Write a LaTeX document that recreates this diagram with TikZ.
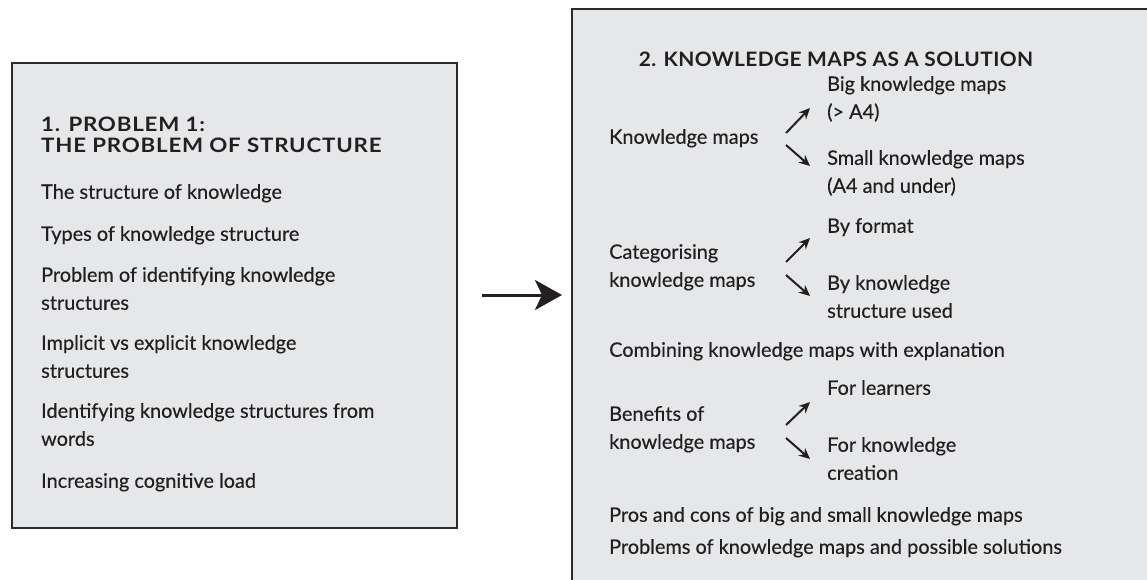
\documentclass[tikz,border=0pt]{standalone}
\usepackage{fontspec}
\setmainfont{Lato}[FakeBold=0.35]
\newfontfamily\headfont{Lato}[FakeStretch=1.12,LetterSpace=4]
\newfontfamily\headfontb{Lato}[FakeStretch=1.05,LetterSpace=2]
\usetikzlibrary{arrows.meta}
\definecolor{boxfill}{HTML}{E6E7E9}
\definecolor{ink}{HTML}{231F20}
\definecolor{edge}{HTML}{2B2B2B}
\tikzset{
  panel/.style={draw=edge, fill=boxfill, line width=2.4pt},
  txt/.style={anchor=west, inner sep=0pt, text=ink, font=\fontsize{19.9}{24}\selectfont, text height=9.5pt, text depth=0pt},
  head/.style={txt, font=\headfont\fontsize{19.9}{24}\selectfont\bfseries, text height=14pt},
  headb/.style={txt, font=\headfontb\fontsize{19.9}{24}\selectfont\bfseries, text height=14pt},
  small/.style={draw=ink, line width=2pt, -{Stealth[length=11pt,width=10pt]}},
  big/.style={draw=ink, line width=3pt, -{Stealth[length=27pt,width=30pt,inset=7pt]}}
}
\begin{document}
\begin{tikzpicture}[x=1pt,y=-1pt]
\useasboundingbox (0,0) rectangle (1147,579);
\fill[white] (0,0) rectangle (1147,579);
\begin{scope}
\clip (0,0) rectangle (1147,579);
\draw[panel] (572,9) rectangle (1165,600);
\end{scope}
\draw[panel] (12,63) rectangle (457,528);

% left box
\node[head] (h1a) at (41,124) {1. PROBLEM 1:};
\node[head] (h1b) at (41,145) {THE PROBLEM OF STRUCTURE};
\node[txt] (l1) at (41,194) {The structure of knowledge};
\node[txt] (l2) at (41,236) {Types of knowledge structure};
\node[txt] (l3a) at (41,277) {Problem of identifying knowledge};
\node[txt] (l3b) at (41,305) {structures};
\node[txt] (l4a) at (41,345) {Implicit vs explicit knowledge};
\node[txt] (l4b) at (41,373) {structures};
\node[txt] (l5a) at (41,413) {Identifying knowledge structures from};
\node[txt] (l5b) at (41,441) {words};
\node[txt] (l6) at (41,483) {Increasing cognitive load};

% right box
\node[headb, anchor=center] (h2) at (836,59) {2. KNOWLEDGE MAPS AS A SOLUTION};
\node[txt] (km) at (609,139) {Knowledge maps};
\node[txt] (bkm) at (827,86) {Big knowledge maps};
\node[txt] (bkm2) at (827,114) {(> A4)};
\node[txt] (skm) at (827,160) {Small knowledge maps};
\node[txt] (skm2) at (827,188) {(A4 and under)};
\node[txt] (cat1) at (609,254) {Categorising};
\node[txt] (cat2) at (609,282) {knowledge maps};
\node[txt] (bf) at (827,228) {By format};
\node[txt] (bks1) at (827,285) {By knowledge};
\node[txt] (bks2) at (827,313) {structure used};
\node[txt] (comb) at (609,352) {Combining knowledge maps with explanation};
\node[txt] (ben1) at (609,416) {Benefits of};
\node[txt] (ben2) at (609,444) {knowledge maps};
\node[txt] (fl) at (827,390) {For learners};
\node[txt] (fk1) at (827,447) {For knowledge};
\node[txt] (fk2) at (827,475) {creation};
\node[txt] (pros) at (609,517) {Pros and cons of big and small knowledge maps};
\node[txt] (prob) at (609,549) {Problems of knowledge maps and possible solutions};

% small arrows
\coordinate (a1s) at (786,133); \coordinate (a1e) at (810,108);
\coordinate (a2s) at (786,145); \coordinate (a2e) at (810,166);
\coordinate (a3s) at (786,262); \coordinate (a3e) at (810,238);
\coordinate (a4s) at (786,275); \coordinate (a4e) at (810,296);
\coordinate (a5s) at (786,425); \coordinate (a5e) at (810,402);
\coordinate (a6s) at (786,438); \coordinate (a6e) at (810,459);
\draw[small] (a1s) -- (a1e);
\draw[small] (a2s) -- (a2e);
\draw[small] (a3s) -- (a3e);
\draw[small] (a4s) -- (a4e);
\draw[small] (a5s) -- (a5e);
\draw[small] (a6s) -- (a6e);

% main arrow
\coordinate (ms) at (482,295); \coordinate (me) at (562,295);
\draw[big] (ms) -- (me);
\end{tikzpicture}
\end{document}
